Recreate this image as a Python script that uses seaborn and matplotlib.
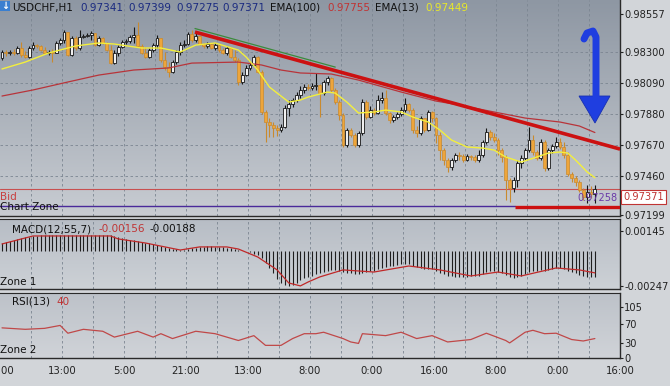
import numpy as np
import matplotlib
matplotlib.use("Agg")
import matplotlib.pyplot as plt
import seaborn as sns
from matplotlib.patches import Polygon, Rectangle
from matplotlib.lines import Line2D

sns.set_style("white")
plt.rcParams['font.family'] = ['DejaVu Sans']

# ---------------- data ----------------
open_first = 0.98259
close = [0.98300, 0.98293, 0.98300, 0.98293, 0.98327, 0.98280, 0.98266, 0.98327, 0.98347, 0.98341,
         0.98313, 0.98293, 0.98300, 0.98293, 0.98361, 0.98381, 0.98435, 0.98280, 0.98395, 0.98327,
         0.98402, 0.98408, 0.98415, 0.98429, 0.98347, 0.98395, 0.98361, 0.98313, 0.98225, 0.98293,
         0.98334, 0.98368, 0.98374, 0.98402, 0.98415, 0.98341, 0.98293, 0.98266, 0.98313, 0.98347,
         0.98395, 0.98246, 0.98198, 0.98165, 0.98232, 0.98300, 0.98347, 0.98354, 0.98422, 0.98381,
         0.98408, 0.98354, 0.98341, 0.98354, 0.98327, 0.98347, 0.98313, 0.98293, 0.98327, 0.98266,
         0.98246, 0.98097, 0.98144, 0.98192, 0.98212, 0.98266, 0.98165, 0.97894, 0.97826, 0.97806,
         0.97785, 0.97772, 0.97792, 0.97921, 0.97948, 0.97975, 0.98009, 0.98043, 0.98063, 0.98056,
         0.98070, 0.98077, 0.98022, 0.98097, 0.98124, 0.98043, 0.97961, 0.97873, 0.97670, 0.97772,
         0.97738, 0.97670, 0.97752, 0.97961, 0.97860, 0.97907, 0.97887, 0.97975, 0.97989, 0.97887,
         0.97840, 0.97860, 0.97880, 0.97907, 0.97948, 0.97907, 0.97772, 0.97752, 0.97853, 0.97772,
         0.97894, 0.97853, 0.97738, 0.97636, 0.97569, 0.97521, 0.97569, 0.97603, 0.97596, 0.97569,
         0.97596, 0.97589, 0.97569, 0.97603, 0.97691, 0.97758, 0.97725, 0.97704, 0.97636, 0.97589,
         0.97433, 0.97379, 0.97433, 0.97548, 0.97582, 0.97636, 0.97704, 0.97623, 0.97582, 0.97691,
         0.97515, 0.97636, 0.97664, 0.97691, 0.97657, 0.97603, 0.97474, 0.97447, 0.97420, 0.97366,
         0.97318, 0.97352, 0.97341, 0.97371]
high = [0.98313, 0.98313, 0.98313, 0.98320, 0.98341, 0.98368, 0.98307, 0.98341, 0.98368, 0.98354,
        0.98347, 0.98334, 0.98313, 0.98320, 0.98374, 0.98395, 0.98449, 0.98415, 0.98408, 0.98408,
        0.98449, 0.98422, 0.98429, 0.98442, 0.98429, 0.98408, 0.98402, 0.98368, 0.98347, 0.98313,
        0.98347, 0.98381, 0.98388, 0.98415, 0.98469, 0.98503, 0.98354, 0.98334, 0.98327, 0.98361,
        0.98415, 0.98381, 0.98300, 0.98232, 0.98246, 0.98313, 0.98368, 0.98381, 0.98435, 0.98449,
        0.98442, 0.98408, 0.98361, 0.98368, 0.98361, 0.98361, 0.98354, 0.98327, 0.98341, 0.98334,
        0.98313, 0.98259, 0.98165, 0.98212, 0.98232, 0.98280, 0.98273, 0.98178, 0.97907, 0.97853,
        0.97826, 0.97806, 0.97813, 0.97941, 0.97975, 0.97989, 0.98029, 0.98070, 0.98083, 0.98083,
        0.98090, 0.98158, 0.98083, 0.98110, 0.98137, 0.98131, 0.98056, 0.97975, 0.97887, 0.97785,
        0.97785, 0.97752, 0.97765, 0.97982, 0.97975, 0.97934, 0.97921, 0.98009, 0.98029, 0.98043,
        0.97894, 0.97873, 0.97894, 0.97928, 0.97989, 0.97955, 0.97921, 0.97799, 0.97867, 0.97853,
        0.97907, 0.97901, 0.97860, 0.97758, 0.97650, 0.97582, 0.97582, 0.97616, 0.97623, 0.97609,
        0.97609, 0.97603, 0.97603, 0.97636, 0.97704, 0.97785, 0.97772, 0.97752, 0.97718, 0.97650,
        0.97603, 0.97447, 0.97454, 0.97569, 0.97603, 0.97650, 0.97792, 0.97738, 0.97636, 0.97711,
        0.97704, 0.97650, 0.97677, 0.97725, 0.97718, 0.97691, 0.97623, 0.97488, 0.97460, 0.97433,
        0.97379, 0.97400, 0.97393, 0.97399]
low = [0.98246, 0.98273, 0.98280, 0.98280, 0.98286, 0.98266, 0.98259, 0.98259, 0.98313, 0.98327,
       0.98307, 0.98286, 0.98280, 0.98232, 0.98293, 0.98347, 0.98361, 0.98273, 0.98273, 0.98313,
       0.98313, 0.98395, 0.98402, 0.98381, 0.98341, 0.98341, 0.98354, 0.98307, 0.98219, 0.98219,
       0.98273, 0.98327, 0.98354, 0.98361, 0.98361, 0.98334, 0.98286, 0.98259, 0.98259, 0.98300,
       0.98327, 0.98232, 0.98178, 0.98131, 0.98158, 0.98219, 0.98280, 0.98334, 0.98347, 0.98368,
       0.98368, 0.98347, 0.98327, 0.98327, 0.98320, 0.98313, 0.98300, 0.98286, 0.98280, 0.98259,
       0.98232, 0.98077, 0.98083, 0.98137, 0.98178, 0.98205, 0.98158, 0.97880, 0.97691, 0.97725,
       0.97725, 0.97731, 0.97758, 0.97785, 0.97867, 0.97928, 0.97961, 0.97989, 0.98022, 0.98043,
       0.98043, 0.98043, 0.97860, 0.98009, 0.98077, 0.98029, 0.97948, 0.97840, 0.97657, 0.97657,
       0.97725, 0.97657, 0.97657, 0.97738, 0.97846, 0.97853, 0.97873, 0.97880, 0.97955, 0.97873,
       0.97819, 0.97826, 0.97846, 0.97867, 0.97894, 0.97894, 0.97752, 0.97725, 0.97738, 0.97758,
       0.97765, 0.97826, 0.97684, 0.97569, 0.97535, 0.97488, 0.97501, 0.97555, 0.97569, 0.97555,
       0.97562, 0.97569, 0.97555, 0.97555, 0.97589, 0.97677, 0.97704, 0.97691, 0.97603, 0.97555,
       0.97298, 0.97284, 0.97352, 0.97386, 0.97515, 0.97569, 0.97623, 0.97603, 0.97569, 0.97569,
       0.97494, 0.97501, 0.97616, 0.97650, 0.97643, 0.97582, 0.97460, 0.97420, 0.97393, 0.97352,
       0.97298, 0.97278, 0.97312, 0.97275]

ema13_x = [0, 6, 12, 19, 25, 29, 36, 41, 46, 50, 55, 61, 63, 66, 69, 74, 77, 79, 84, 86, 89, 92, 96,
           99, 103, 106, 110, 113, 116, 120, 124, 127, 130, 134, 138, 141, 144, 146, 148, 151, 153]
ema13_y = [0.98185, 0.98232, 0.98293, 0.98341, 0.98361, 0.98354, 0.98327, 0.98327, 0.98300, 0.98347,
           0.98361, 0.98313, 0.98266, 0.98178, 0.98063, 0.97961, 0.97975, 0.97995, 0.98029, 0.98022,
           0.97961, 0.97887, 0.97894, 0.97907, 0.97894, 0.97860, 0.97826, 0.97772, 0.97704, 0.97657,
           0.97650, 0.97636, 0.97589, 0.97555, 0.97589, 0.97616, 0.97623, 0.97616, 0.97569, 0.97488,
           0.97449]
ema100_x = [0, 8, 17, 25, 34, 43, 49, 61, 67, 72, 77, 85, 92, 103, 112, 118, 127, 135, 144, 149, 153]
ema100_y = [0.98002, 0.98043, 0.98097, 0.98144, 0.98178, 0.98192, 0.98225, 0.98232, 0.98212, 0.98178,
            0.98158, 0.98151, 0.98110, 0.98029, 0.97968, 0.97941, 0.97894, 0.97853, 0.97826, 0.97799,
            0.97755]

macd_hist = [0.00055, 0.00062, 0.00070, 0.00078, 0.00085, 0.00092, 0.00098, 0.00103, 0.00107,
             0.00110, 0.00111, 0.00112, 0.00112, 0.00113, 0.00112, 0.00113, 0.00114, 0.00114, 0.00113,
             0.00114, 0.00114, 0.00114, 0.00113, 0.00114, 0.00113, 0.00112, 0.00113, 0.00112, 0.00111,
             0.00105, 0.00100, 0.00095, 0.00085, 0.00080, 0.00078, 0.00072, 0.00066, 0.00060, 0.00055,
             0.00050, 0.00045,
             0.00038, 0.00030, 0.00022, 0.00016, 0.00012, 0.00010, 0.00010, 0.00012,
             0.00018, 0.00024, 0.00028, 0.00030, 0.00032, 0.00032, 0.00030, 0.00028, 0.00026, 0.00024,
             0.00020, 0.00015,
             0.00006, 0.00002, -0.00002, -0.00006, -0.00018, -0.00028, -0.00050, -0.00085, -0.00120,
             -0.00160, -0.00200, -0.00230, -0.00245, -0.00250, -0.00240, -0.00225, -0.00210, -0.00195,
             -0.00185, -0.00175, -0.00165, -0.00160,
             -0.00150, -0.00140, -0.00135, -0.00135, -0.00140, -0.00150, -0.00155, -0.00160,
             -0.00165, -0.00165, -0.00155, -0.00150, -0.00145, -0.00140,
             -0.00130, -0.00120, -0.00115, -0.00110, -0.00105, -0.00100, -0.00095, -0.00090,
             -0.00095, -0.00105, -0.00115, -0.00120, -0.00125, -0.00125, -0.00130, -0.00140,
             -0.00155, -0.00165, -0.00175, -0.00180, -0.00185, -0.00185, -0.00185, -0.00185, -0.00180,
             -0.00180,
             -0.00175, -0.00165, -0.00150, -0.00145, -0.00145, -0.00150, -0.00155,
             -0.00170, -0.00185, -0.00190, -0.00185, -0.00175, -0.00165,
             -0.00150, -0.00145, -0.00145, -0.00135, -0.00140, -0.00135, -0.00130, -0.00120, -0.00120,
             -0.00125,
             -0.00140, -0.00150, -0.00160, -0.00170, -0.00180, -0.00185, -0.00186, -0.00188]
macd_sig_x = [0, 8, 28, 30, 37, 46, 51, 58, 61, 66, 71, 74, 77, 79, 82, 88, 96, 105, 113, 121, 128,
              134, 143, 149, 153]
macd_sig_y = [0.00050, 0.00107, 0.00107, 0.00086, 0.00057, 0.00007, 0.00029, 0.00029, 0.00014,
              -0.00043, -0.00135, -0.00228, -0.00249, -0.00221, -0.00185, -0.00135, -0.00150,
              -0.00107, -0.00135, -0.00178, -0.00150, -0.00178, -0.00121, -0.00135, -0.00156]

rsi_x = [0, 6, 11, 15, 17, 21, 26, 29, 35, 39, 41, 44, 50, 55, 61, 65, 68, 72, 75, 78, 81, 83, 88,
         90, 92, 93, 99, 103, 107, 111, 115, 121, 125, 130, 131, 135, 137, 140, 143, 147, 150, 153]
rsi_y = [62, 59, 61, 67, 51, 59, 55, 43, 55, 43, 50, 40, 55, 50, 36, 46, 26, 26, 40, 50, 50, 53, 40,
         33, 30, 50, 46, 53, 40, 46, 33, 38, 51, 36, 31, 53, 57, 50, 51, 38, 35, 40]

time_labels = ["21:00", "13:00", "5:00", "21:00", "13:00", "8:00", "0:00", "16:00", "8:00", "0:00", "16:00"]
price_ticks = [0.98557, 0.98300, 0.98090, 0.97880, 0.97670, 0.97460, 0.97199]
macd_ticks = [0.00145, -0.00247]
rsi_ticks = [105, 70, 30, 0]

bid_price = 0.97371
zone_price = 0.97258
support_price = 0.97250
support_x = [132.4, 159.5]
trend_x = [49.8, 159.5]
trend_y = [0.98435, 0.97643]
green_x = [49.8, 86.0]
green_y = [0.98459, 0.98198]

# ---------------- figure ----------------
W, H = 670, 386
fig = plt.figure(figsize=(W / 100, H / 100), dpi=100)
fig.patch.set_facecolor('#d2d5d9')


def panel(top, bottom):
    return [0, 1 - bottom / H, 620 / W, (bottom - top) / H]


def fx(px):
    return px / W


def fy(py):
    return 1 - py / H


ax = fig.add_axes(panel(0, 216))
axm = fig.add_axes(panel(219, 289))
axr = fig.add_axes(panel(293, 358))

n = len(close)
xi = np.arange(n)
c = np.array(close)
o = np.array([open_first] + close[:-1])
hi = np.maximum(np.array(high), np.maximum(o, c))
lo = np.minimum(np.array(low), np.minimum(o, c))

XL = (-0.516, 159.48)


def background(a, top_col, bot_col):
    from matplotlib.colors import LinearSegmentedColormap
    cm = LinearSegmentedColormap.from_list('g', [bot_col, top_col])
    grad = np.linspace(0, 1, 256).reshape(-1, 1)
    a.imshow(grad, extent=(0, 1, 0, 1), transform=a.transAxes, origin='lower',
             aspect='auto', cmap=cm, zorder=-10)


background(ax, '#8e97a3', '#c8ccd2')
background(axm, '#b7bdc5', '#cdd1d6')
background(axr, '#bdc2c9', '#d0d3d8')

grid_x = np.arange(0, 21) * 8 - 0.516
label_x = np.arange(0, 11) * 16 - 0.516
for a in (ax, axm, axr):
    for gx in grid_x[1:20]:
        a.axvline(gx, color='#7b8591', lw=0.6, ls=(0, (3, 3)), zorder=0)
    a.set_xlim(*XL)
    for s in ('left', 'top'):
        a.spines[s].set_visible(False)
    for s in ('right', 'bottom'):
        a.spines[s].set_color('#2a2a2a')
        a.spines[s].set_linewidth(1.0)
    a.yaxis.tick_right()
    a.tick_params(axis='y', direction='out', length=2.5, width=0.8, colors='#222222',
                  labelsize=7.1, pad=0.5)
    a.tick_params(axis='x', length=0, labelbottom=False)
    a.set_facecolor('none')

axm.spines['top'].set_visible(True)
axm.spines['top'].set_color('#2a2a2a')
axr.spines['top'].set_visible(True)
axr.spines['top'].set_color('#2a2a2a')

# main price panel
ax.set_ylim(0.97190, 0.98652)
ax.set_yticks(price_ticks)
ax.set_yticklabels([f"{p:.5f}" for p in price_ticks])
for p in price_ticks[1:-1]:
    ax.axhline(p, color='#7b8591', lw=0.6, ls=(0, (3, 3)), zorder=0)

up = c >= o
dn = ~up
ax.vlines(xi[up], lo[up], hi[up], color='#151515', lw=0.8, zorder=3)
ax.vlines(xi[dn], lo[dn], hi[dn], color='#c98a2e', lw=0.8, zorder=3)
body = np.where(np.abs(c - o) < 0.00003, 0.00003, c - o)
ax.bar(xi[up], body[up], bottom=o[up], width=0.72, color='#f0f0f0',
       edgecolor='#151515', linewidth=0.6, zorder=4)
ax.bar(xi[dn], (c - o)[dn], bottom=o[dn], width=0.72, color='#eea53a',
       edgecolor='#c98a2e', linewidth=0.5, zorder=4)

sns.lineplot(x=ema100_x, y=ema100_y, ax=ax, color='#b8343a', lw=0.9, zorder=5)
sns.lineplot(x=ema13_x, y=ema13_y, ax=ax, color='#f3ef3c', lw=1.0, zorder=5)

ax.axhline(bid_price, color='#c85050', lw=0.8, zorder=2)
ax.axhline(zone_price, xmax=(support_x[0] - XL[0]) / (XL[1] - XL[0]), color='#4a2a9a',
           lw=1.0, zorder=2)
ax.plot(support_x, [support_price, support_price], color='#cc1010', lw=2.4,
        solid_capstyle='butt', zorder=6)
ax.plot(green_x, green_y, color='#3c8a3c', lw=0.9, zorder=6)
ax.plot(trend_x, trend_y, color='#cc1111', lw=2.6, solid_capstyle='butt', zorder=7)
ax.set_ylabel('')
ax.set_xlabel('')

# MACD panel
axm.set_ylim(-0.00271, 0.00228)
axm.set_yticks(macd_ticks)
axm.set_yticklabels([f"{v:.5f}" for v in macd_ticks])
axm.vlines(xi, 0, macd_hist, color='#1e1e1e', lw=0.8, zorder=3)
sns.lineplot(x=macd_sig_x, y=macd_sig_y, ax=axm, color='#c02828', lw=0.9, zorder=4)
axm.set_ylabel('')
axm.set_xlabel('')

# RSI panel
axr.set_ylim(0, 133.7)
axr.set_yticks(rsi_ticks)
axr.set_yticklabels([str(v) for v in rsi_ticks])
sns.lineplot(x=rsi_x, y=rsi_y, ax=axr, color='#c04848', lw=0.9, zorder=4)
axr.set_ylabel('')
axr.set_xlabel('')
axr.set_xticks(label_x)
axr.set_xticklabels(time_labels)
axr.tick_params(axis='x', labelbottom=True, length=3, width=0.8, colors='#222222',
                labelsize=7.3, pad=3, direction='out')

# ---------------- texts ----------------
hdr_y = fy(8)
fig.add_artist(Rectangle((fx(0), fy(11)), fx(10), 10 / H, transform=fig.transFigure,
                         facecolor='#3a7fd0', edgecolor='none'))
fig.text(fx(5), fy(6), '\u2193', color='white', fontsize=7, ha='center', va='center',
         fontweight='bold')
hdr = [(12, 'USDCHF,H1', '#111111'), (80, '0.97341', '#1a2a80'), (128, '0.97399', '#1a2a80'),
       (176, '0.97275', '#1a2a80'), (222, '0.97371', '#1a2a80'), (270, 'EMA(100)', '#111111'),
       (327, '0.97755', '#c03434'), (375, 'EMA(13)', '#111111'), (425, '0.97449', '#e8e82a')]
for px, s, col in hdr:
    fig.text(fx(px), hdr_y, s, color=col, fontsize=7.5, ha='left', va='center')

fig.text(fx(0), fy(197), 'Bid', color='#c84040', fontsize=7.5, ha='left', va='center')
fig.text(fx(0), fy(207), 'Chart Zone', color='#111111', fontsize=7.5, ha='left', va='center')
fig.text(fx(617), fy(198), '0.97258', color='#6a3aa8', fontsize=7.0, ha='right', va='center')
fig.text(fx(623), fy(197), '0.97371', color='#c03434', fontsize=7.1, ha='left', va='center',
         bbox=dict(boxstyle='square,pad=0.2', facecolor='white', edgecolor='#c03434', lw=0.8))

fig.text(fx(12), fy(229), 'MACD(12,55,7)', color='#111111', fontsize=7.5, ha='left', va='center')
fig.text(fx(98), fy(229), '-0.00156', color='#c03434', fontsize=7.5, ha='left', va='center')
fig.text(fx(150), fy(229), '-0.00188', color='#111111', fontsize=7.5, ha='left', va='center')
fig.text(fx(0), fy(282), 'Zone 1', color='#111111', fontsize=7.5, ha='left', va='center')
fig.text(fx(12), fy(302), 'RSI(13)', color='#111111', fontsize=7.5, ha='left', va='center')
fig.text(fx(56), fy(302), '40', color='#c03434', fontsize=7.5, ha='left', va='center')
fig.text(fx(0), fy(350), 'Zone 2', color='#111111', fontsize=7.5, ha='left', va='center')

# ---------------- blue arrow ----------------
stem = [(584, 39), (587, 33), (593, 31), (596, 37), (596, 97)]
fig.add_artist(Line2D([fx(p[0]) for p in stem], [fy(p[1]) for p in stem],
                      transform=fig.transFigure, color='#1f3ee0', lw=5,
                      solid_capstyle='round', solid_joinstyle='round'))
head = [(579, 96), (610, 96), (595, 123)]
fig.add_artist(Polygon([(fx(a), fy(b)) for a, b in head], closed=True,
                       transform=fig.transFigure, facecolor='#1f3ee0', edgecolor='#1830b0',
                       lw=0.6))

fig.savefig('out.png', dpi=100, facecolor=fig.get_facecolor())
